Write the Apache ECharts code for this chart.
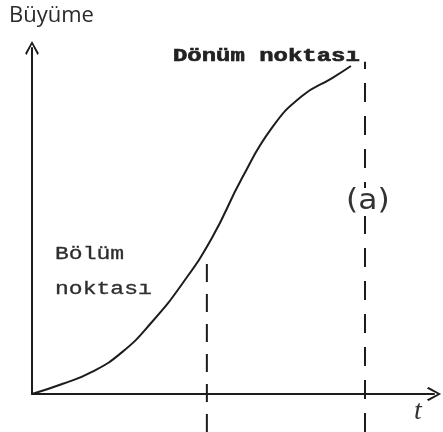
<!DOCTYPE html>
<html>
<head>
<meta charset="utf-8">
<script src="https://cdn.jsdelivr.net/npm/echarts@6/dist/echarts.min.js"></script>
<style>
  html, body { margin: 0; padding: 0; background: #fff; }
  #chart { width: 443px; height: 432px; }
</style>
</head>
<body>
<div id="chart"></div>
<script>
// Growth curve (S-shape) over time t
const timeValues   = [0, 0.90, 1.79, 2.69, 3.58, 4.48, 5.37, 6.27, 7.16, 8.06, 8.96, 9.52];
const growthValues = [0, 0.29, 0.64, 1.21, 2.08, 3.18, 4.51, 6.24, 7.69, 8.61, 9.13, 9.48];

// Vertical dashed markers: [t, bottom, top]
const inflectionMarker = [5.22, -1.10, 3.82];
const turningMarker    = [9.94, -1.10, 9.60];

const yAxisName   = 'Büyüme';
const xAxisName   = 't';
const turningText = 'Dönüm noktası';
const inflectText = ['Bölüm', 'noktası'];
const regionText  = '(a)';

const ink = '#1c1c1c';
const chevron = 'path://M5,0 L10,9 L9,10.2 L5,2.6 L1,10.2 L0,9 Z';

const chart = echarts.init(document.getElementById('chart'), null, { renderer: 'canvas' });

const curve = timeValues.map((t, i) => [t, growthValues[i]]);
const markerLine = m => [[m[0], m[1]], [m[0], m[2]]];

chart.setOption({
  backgroundColor: '#ffffff',
  animation: false,
  grid: { left: 32, top: 48, width: 402, height: 346, containLabel: false },
  xAxis: {
    type: 'value', min: 0, max: 12,
    axisLine: { show: true, onZero: false, symbol: ['none', chevron], symbolSize: [14, 18],
                lineStyle: { color: ink, width: 2 } },
    axisTick: { show: false }, axisLabel: { show: false }, splitLine: { show: false }
  },
  yAxis: {
    type: 'value', min: 0, max: 10,
    axisLine: { show: true, onZero: false, symbol: ['none', chevron], symbolSize: [17, 14],
                lineStyle: { color: ink, width: 2 } },
    axisTick: { show: false }, axisLabel: { show: false }, splitLine: { show: false }
  },
  series: [
    {
      type: 'line', data: curve, smooth: 0.5, symbol: 'none', clip: false,
      lineStyle: { color: ink, width: 2 }
    },
    {
      type: 'line', data: markerLine(inflectionMarker), symbol: 'none', clip: false,
      lineStyle: { color: ink, width: 2, type: [18, 12] }
    },
    {
      type: 'line', data: markerLine(turningMarker), symbol: 'none', clip: false,
      lineStyle: { color: ink, width: 2, type: [19, 14] }
    }
  ],
  graphic: [
    { type: 'text', left: 9, top: 5,
      style: { text: yAxisName, font: '22px "Open Sans"', fill: '#2a2a2a' } },
    { type: 'text', x: 173, y: 47, scaleX: 1.33, z: 10,
      style: { text: turningText, font: 'bold 18px "Liberation Mono"', fill: '#222',
               stroke: '#222', lineWidth: 0.6 } },
    { type: 'text', x: 55, y: 245, scaleX: 1.28,
      style: { text: inflectText[0], font: '18px "Liberation Mono"', fill: '#2e2e2e',
               stroke: '#2e2e2e', lineWidth: 0.3 } },
    { type: 'text', x: 55, y: 280, scaleX: 1.28,
      style: { text: inflectText[1], font: '18px "Liberation Mono"', fill: '#2e2e2e',
               stroke: '#2e2e2e', lineWidth: 0.3 } },
    { type: 'text', x: 345, y: 188, scaleX: 1.12, z: 10,
      style: { text: regionText, font: '28px "DejaVu Sans"', fill: '#333',
               backgroundColor: '#ffffff', padding: [0, 1] } },
    { type: 'text', x: 414, y: 398,
      style: { text: xAxisName, font: 'italic 28px "Liberation Serif"', fill: '#333' } }
  ]
});
</script>
</body>
</html>
